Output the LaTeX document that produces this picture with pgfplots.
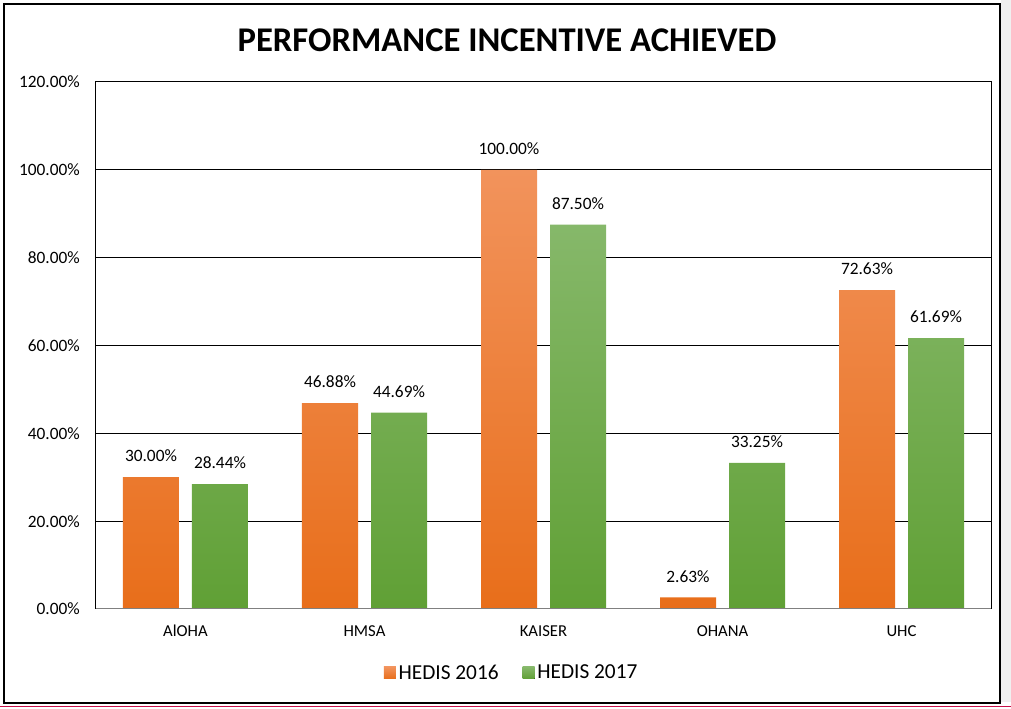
\documentclass[border=0pt]{standalone}
\usepackage{pgfplots}
\pgfplotsset{compat=1.18}
\usepackage{fontspec}
\setmainfont{Carlito}
\definecolor{orTop}{HTML}{F2935C}
\definecolor{orBot}{HTML}{E86E1A}
\definecolor{grTop}{HTML}{86B86A}
\definecolor{grBot}{HTML}{60A035}
\definecolor{pinkline}{HTML}{C8104A}
\begin{document}
\begin{tikzpicture}
\useasboundingbox (-72pt,-75pt) rectangle (686.25pt,456.75pt);
\fill[black!6] (678.5pt,-70pt) rectangle (686.25pt,456.75pt);
\draw[line width=1.1pt] (-69pt,-70.5pt) rectangle (678pt,453.75pt);
\draw[pinkline, line width=1.1pt] (-72pt,-73.2pt) -- (686.25pt,-73.2pt);
\node[font=\fontsize{26}{30}\selectfont\bfseries] at (308.25pt,426.75pt) {PERFORMANCE INCENTIVE ACHIEVED};
\begin{axis}[
  at={(0pt,0pt)}, anchor=south west,
  scale only axis, width=671.25pt, height=395.25pt,
  ybar=9.75pt, bar width=42pt,
  xmin=-0.5, xmax=4.5, ymin=0, ymax=120,
  xtick={0,1,2,3,4},
  xticklabels={AlOHA,HMSA,KAISER,OHANA,UHC},
  ytick={0,20,40,60,80,100,120},
  yticklabel={\pgfmathprintnumber[fixed,fixed zerofill,precision=2]{\tick}\%},
  /pgf/number format/assume math mode=true,
  major tick length=0pt,
  ymajorgrids, major grid style={black, line width=0.75pt},
  axis line style={black, line width=0.75pt},
  xticklabel style={font=\fontsize{12.5}{15}\selectfont, anchor=base, yshift=-21pt},
  yticklabel style={font=\fontsize{13}{15}\selectfont, anchor=east, inner sep=0pt, xshift=-12pt},
  nodes near coords={\pgfmathprintnumber[fixed,fixed zerofill,precision=2]{\pgfplotspointmeta}\%},
  every node near coord/.append style={font=\fontsize{13}{15}\selectfont, anchor=base, yshift=11.5pt, text=black},
  legend style={draw=none, at={(0.4648,-0.1214)}, anchor=center, legend columns=2,
    font=\fontsize{16}{19}\selectfont, /tikz/every even column/.append style={column sep=16pt}},
  legend image code/.code={\fill[#1] (0pt,-4.5pt) rectangle (9pt,4.5pt);},
]
\addplot[draw=none, top color=orTop, bottom color=orBot] coordinates {(0,30.00) (1,46.88) (2,100.00) (3,2.63) (4,72.63)};
\addplot[draw=none, top color=grTop, bottom color=grBot] coordinates {(0,28.44) (1,44.69) (2,87.50) (3,33.25) (4,61.69)};
\legend{HEDIS 2016, HEDIS 2017}
\draw[black!50, line width=0.9pt] (rel axis cs:0,0) -- (rel axis cs:1,0);
\end{axis}
\end{tikzpicture}
\end{document}
